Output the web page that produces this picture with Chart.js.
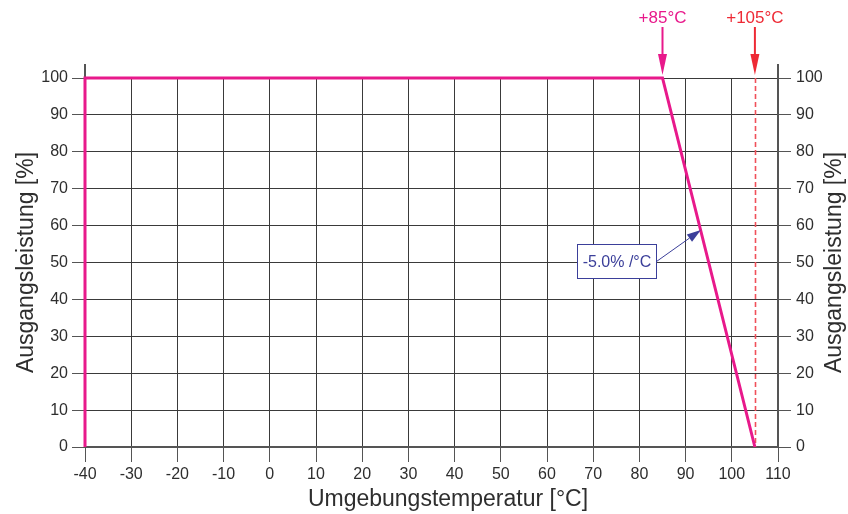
<!DOCTYPE html>
<html><head><meta charset="utf-8">
<script src="https://cdn.jsdelivr.net/npm/chart.js@4"></script>
<style>html,body{margin:0;padding:0;background:#fff}#wrap{width:848px;height:514px}</style>
</head><body><div id="wrap"><canvas id="c" width="848" height="514"></canvas></div>
<script>
// ---- data ----
const tempX = [-40, -40, 85, 105];
const powerY = [0, 100, 100, 0];
const xTicks = [-40, -30, -20, -10, 0, 10, 20, 30, 40, 50, 60, 70, 80, 90, 100, 110];
const yTicks = [0, 10, 20, 30, 40, 50, 60, 70, 80, 90, 100];
const limitTemps = [85, 105];
const limitLabels = ['+85°C', '+105°C'];
const slopeLabel = '-5.0% /°C';
const slopeBoxAt = [75, 50.4];
const slopeArrowTip = [93.3, 58.8];
const maxTemp = 105;
const xTitle = 'Umgebungstemperatur [°C]';
const yTitle = 'Ausgangsleistung [%]';

const FONT = "'Liberation Sans', Arial, sans-serif";
const PINK = '#e8198b';
const RED = '#ee2a35';
const BLUE = '#3b3f9a';
const GRID = '#3a3a3a';
const AXIS = '#555555';
const TXT = '#2e2e2e';

const extras = {
  id: 'extras',
  beforeDatasetsDraw(chart) {
    const {ctx, chartArea: a, scales: {x, y}} = chart;
    ctx.save();
    ctx.strokeStyle = '#f0505a';
    ctx.lineWidth = 1.6;
    ctx.setLineDash([5, 3]);
    const xm = Math.round(x.getPixelForValue(maxTemp)) + 0.5;
    ctx.beginPath();
    ctx.moveTo(xm, y.getPixelForValue(100));
    ctx.lineTo(xm, y.getPixelForValue(0));
    ctx.stroke();
    ctx.setLineDash([]);
    ctx.strokeStyle = AXIS;
    ctx.lineWidth = 2;
    ctx.beginPath();
    ctx.moveTo(a.left, a.top - 14); ctx.lineTo(a.left, a.top);
    ctx.moveTo(a.right, a.top - 14); ctx.lineTo(a.right, a.top);
    ctx.stroke();
    ctx.restore();
  },
  afterDatasetsDraw(chart) {
    const {ctx, chartArea: a, scales: {x, y}} = chart;
    ctx.save();
    const cols = [PINK, RED];
    limitTemps.forEach((t, i) => {
      const px = x.getPixelForValue(t);
      ctx.strokeStyle = cols[i];
      ctx.fillStyle = cols[i];
      ctx.lineWidth = 2;
      ctx.beginPath();
      ctx.moveTo(px, 27);
      ctx.lineTo(px, a.top - 18);
      ctx.stroke();
      ctx.beginPath();
      ctx.moveTo(px - 4.5, a.top - 24);
      ctx.lineTo(px + 4.5, a.top - 24);
      ctx.lineTo(px, a.top - 3);
      ctx.closePath();
      ctx.fill();
      ctx.font = '17px ' + FONT;
      ctx.textAlign = 'center';
      ctx.textBaseline = 'alphabetic';
      ctx.fillText(limitLabels[i], px, 23);
    });
    const bx = x.getPixelForValue(slopeBoxAt[0]);
    const by = y.getPixelForValue(slopeBoxAt[1]);
    const bw = 79, bh = 34;
    const l = Math.round(bx - bw / 2) + 0.5, tp = Math.round(by - bh / 2) + 0.5;
    ctx.fillStyle = '#fff';
    ctx.fillRect(l, tp, bw, bh);
    ctx.strokeStyle = BLUE;
    ctx.lineWidth = 1;
    ctx.strokeRect(l, tp, bw, bh);
    ctx.fillStyle = BLUE;
    ctx.font = '16px ' + FONT;
    ctx.textAlign = 'center';
    ctx.textBaseline = 'middle';
    ctx.fillText(slopeLabel, l + bw / 2, tp + bh / 2 + 1);
    const sx = l + bw, sy = tp + bh / 2;
    const tx = x.getPixelForValue(slopeArrowTip[0]);
    const ty = y.getPixelForValue(slopeArrowTip[1]);
    const ang = Math.atan2(ty - sy, tx - sx);
    const hl = 14, hw = 4.5;
    ctx.beginPath();
    ctx.moveTo(sx, sy);
    ctx.lineTo(tx - hl * Math.cos(ang), ty - hl * Math.sin(ang));
    ctx.stroke();
    ctx.beginPath();
    ctx.moveTo(tx, ty);
    ctx.lineTo(tx - hl * Math.cos(ang) + hw * Math.sin(ang), ty - hl * Math.sin(ang) - hw * Math.cos(ang));
    ctx.lineTo(tx - hl * Math.cos(ang) - hw * Math.sin(ang), ty - hl * Math.sin(ang) + hw * Math.cos(ang));
    ctx.closePath();
    ctx.fill();
    ctx.fillStyle = TXT;
    ctx.font = '23px ' + FONT;
    ctx.textAlign = 'center';
    ctx.textBaseline = 'alphabetic';
    ctx.fillText(xTitle, 448, 506);
    const cy = (a.top + a.bottom) / 2;
    [33, 841].forEach(bxl => {
      ctx.save();
      ctx.translate(bxl, cy);
      ctx.rotate(-Math.PI / 2);
      ctx.fillText(yTitle, 0, 0);
      ctx.restore();
    });
    ctx.restore();
  }
};

const tickFont = {family: FONT, size: 16};
const yScaleBase = (pos, width, pad) => ({
  type: 'linear', position: pos, min: 0, max: 100,
  afterBuildTicks: s => { s.ticks = yTicks.map(v => ({value: v})); },
  afterFit: s => { s.width = width; },
  ticks: {font: tickFont, color: TXT, padding: pad, autoSkip: false},
  grid: {color: GRID, lineWidth: 1, tickLength: 13, drawOnChartArea: pos === 'left', tickColor: AXIS},
  border: {color: AXIS, width: 2},
  title: {display: false}
});

new Chart(document.getElementById('c'), {
  type: 'line',
  data: {
    datasets: [{
      data: tempX.map((t, i) => ({x: t, y: powerY[i]})),
      borderColor: PINK, borderWidth: 3, pointRadius: 0, tension: 0, fill: false,
      clip: false, borderJoinStyle: 'miter'
    }]
  },
  options: {
    responsive: false, animation: false, devicePixelRatio: 1,
    layout: {padding: {top: 78, left: 0, right: 0, bottom: 0}},
    plugins: {legend: {display: false}, tooltip: {enabled: false}},
    scales: {
      x: {
        type: 'linear', min: -40, max: 110,
        afterBuildTicks: s => { s.ticks = xTicks.map(v => ({value: v})); },
        afterFit: s => { s.height = 67; },
        ticks: {font: tickFont, color: TXT, padding: 3, maxRotation: 0, autoSkip: false},
        grid: {color: GRID, lineWidth: 1, tickLength: 15, tickColor: AXIS},
        border: {color: AXIS, width: 2},
        title: {display: false}
      },
      y: yScaleBase('left', 85, 4),
      y2: yScaleBase('right', 70, 5)
    }
  },
  plugins: [extras]
});
</script>
</body></html>
